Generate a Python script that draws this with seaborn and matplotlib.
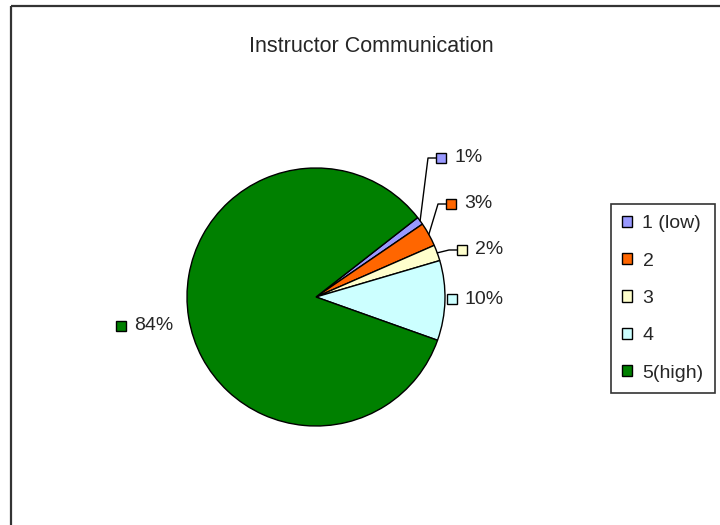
import numpy as np
import matplotlib.pyplot as plt
import seaborn as sns

# data
categories = ['1 (low)', '2', '3', '4', '5(high)']
shares = [1, 3, 2, 10, 84]
pct_labels = ['1%', '3%', '2%', '10%', '84%']
colors = ['#9999FF', '#FF6600', '#FFFFCC', '#CCFFFF', '#008000']

sns.set_theme(style="white")
plt.rcParams['font.family'] = ['Liberation Sans', 'DejaVu Sans']

W, H = 720, 525
fig = plt.figure(figsize=(7.2, 5.25), dpi=100)
ax = fig.add_axes([0, 0, 1, 1])
ax.set_xlim(0, W)
ax.set_ylim(0, H)
ax.set_aspect('equal')
ax.axis('off')

def py(y):
    # pixel row -> data y
    return H - y

# outer chart frame (only top/left visible in the crop)
ax.plot([11, 11], [0, py(6)], color='#333333', lw=1.6, solid_capstyle='butt')
ax.plot([11, W], [py(6), py(6)], color='#333333', lw=1.6, solid_capstyle='butt')

ax.text(371, py(46), 'Instructor Communication', ha='center', va='center', fontsize=15.5)

cx, cy, r = 316, py(297), 129
wedges, _ = ax.pie(shares, colors=colors, startangle=38, counterclock=False,
                   center=(cx, cy), radius=r,
                   wedgeprops=dict(edgecolor='black', linewidth=1.0))
ax.set_xlim(0, W)
ax.set_ylim(0, H)

# label positions (square marker centre, pixel coords)
label_pos = [(441, 158), (451, 204), (462, 250), (452, 299), (121, 326)]
leader = [True, True, True, False, False]

for w, lab, col, (lx, ly), has_line in zip(wedges, pct_labels, colors, label_pos, leader):
    if has_line:
        mid = np.deg2rad((w.theta1 + w.theta2) / 2)
        ex, ey = cx + r * np.cos(mid), cy + r * np.sin(mid)
        elbow_x = lx - 13
        ax.plot([ex, elbow_x, lx - 5], [ey, py(ly), py(ly)], color='black', lw=1.0)
    ax.plot(lx, py(ly), marker='s', markersize=6.5, markerfacecolor=col,
            markeredgecolor='black', markeredgewidth=1.0)
    ax.text(lx + 13, py(ly), lab, ha='left', va='center', fontsize=14)

leg = ax.legend(wedges, categories, loc='upper left', bbox_to_anchor=(611, py(204)),
                bbox_transform=ax.transData, borderaxespad=0, frameon=True, fancybox=False,
                edgecolor='black', fontsize=14, handlelength=0.5, handleheight=0.5,
                handletextpad=0.55, labelspacing=1.05, borderpad=0.57)
leg.get_frame().set_linewidth(1.2)
for h in leg.legend_handles:
    h.set_linewidth(1.0)

plt.savefig('out.png', dpi=100)
